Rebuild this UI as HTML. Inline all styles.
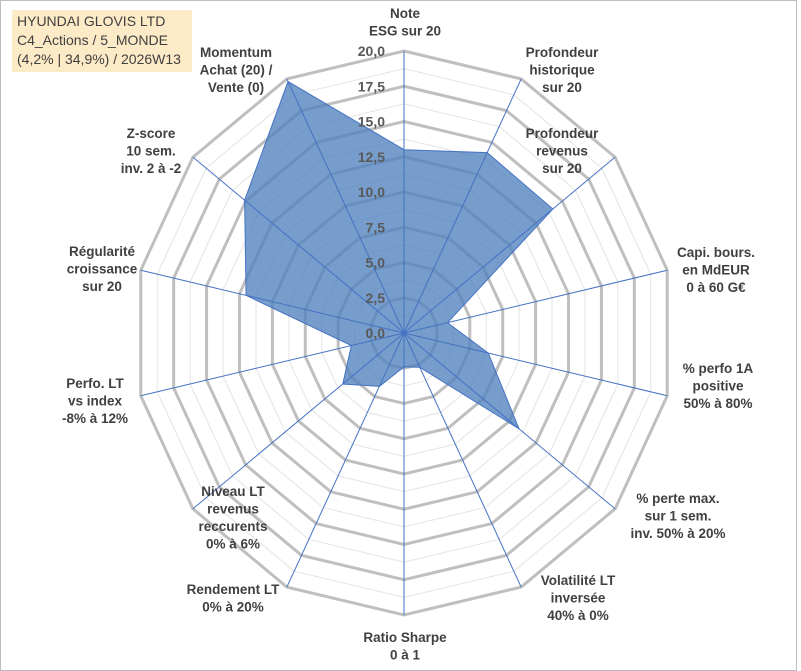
<!DOCTYPE html>
<html><head><meta charset="utf-8"><style>
body{margin:0;background:#fff}
#wrap{position:relative;width:801px;height:671px;overflow:hidden;font-family:"Liberation Sans",sans-serif}
#frame{position:absolute;left:0;top:0;width:795px;height:669px;border:1px solid #bdbdbd}
#title{position:absolute;left:12px;top:10px;width:180px;height:62px;background:#fdeac6;color:#404040;font-size:14px;line-height:19px;padding:2px 0 0 5px;box-sizing:border-box}
svg{position:absolute;left:0;top:0}
</style></head><body>
<div id="wrap">
<div id="frame"></div>
<svg id="radar" width="801" height="671"></svg>
<div id="title">HYUNDAI GLOVIS LTD<br>C4_Actions / 5_MONDE<br>(4,2% | 34,9%) / 2026W13</div>
</div>
<script>
const categories=[["Note","ESG sur 20"],["Profondeur","historique","sur 20"],["Profondeur","revenus","sur 20"],["Capi. bours.","en MdEUR","0 à 60 G€"],["% perfo 1A","positive","50% à 80%"],["% perte max.","sur 1 sem.","inv. 50% à 20%"],["Volatilité LT","inversée","40% à 0%"],["Ratio Sharpe","0 à 1"],["Rendement LT","0% à 20%"],["Niveau LT","revenus","reccurents","0% à 6%"],["Perfo. LT","vs index","-8% à 12%"],["Régularité","croissance","sur 20"],["Z-score","10 sem.","inv. 2 à -2"],["Momentum","Achat (20) /","Vente (0)"]];
const values=[13.0,14.2,14.1,3.3,6.4,10.9,2.7,2.4,4.2,5.8,4.0,12.0,15.1,19.8];
const tickLabels=["0,0","2,5","5,0","7,5","10,0","12,5","15,0","17,5","20,0"];
const labelCenters=[[405,18],[562,57],[562,138],[716,257],[718,373],[678,503],[578,585],[405,642],[233,594],[233,496],[95,388],[102,256],[151,138],[236,57]];
const CX=404,CY=333,RX=270,RY=282,MAX=20,N=categories.length;
const svg=document.getElementById('radar');const NS='http://www.w3.org/2000/svg';
function ang(i){return i*2*Math.PI/N;}
function pt(i,v){const f=v/MAX;return [CX+f*RX*Math.sin(ang(i)),CY-f*RY*Math.cos(ang(i))];}
function mk(t,a){const e=document.createElementNS(NS,t);for(const k in a)e.setAttribute(k,a[k]);svg.appendChild(e);return e;}
for(let k=1;k<=16;k++){const v=k*1.25;const pts=[];for(let i=0;i<N;i++)pts.push(pt(i,v).join(','));
const major=k%2===0;
const g=mk('polygon',{points:pts.join(' '),fill:'none',stroke:major?'#bfbfbf':'#e3e3e3','stroke-width':major?3:1});

}
const poly=[];for(let i=0;i<N;i++)poly.push(pt(i,values[i]).join(','));
const area=mk('polygon',{points:poly.join(' '),fill:'#4f81bd','fill-opacity':0.78,stroke:'#4472c4','stroke-width':1});


for(let i=0;i<N;i++){const p=pt(i,MAX);const l=mk('line',{x1:CX,y1:CY,x2:p[0],y2:p[1],stroke:'#4472c4','stroke-width':1});

}
tickLabels.forEach((t,k)=>{const y=CY-(k*2.5)/MAX*RY;const e=mk('text',{x:CX-19,y:y+5,'text-anchor':'end','font-size':14,'font-weight':'bold',fill:'#595959'});e.textContent=t;

});
categories.forEach((lines,i)=>{const c=labelCenters[i];const e=mk('text',{'text-anchor':'middle','font-size':13.5,'font-weight':'bold',fill:'#404040'});


lines.forEach((s,j)=>{const ts=document.createElementNS(NS,'tspan');ts.setAttribute('x',c[0]);ts.setAttribute('y',c[1]+j*17.5);ts.textContent=s;e.appendChild(ts);});});
</script>
</body></html>
